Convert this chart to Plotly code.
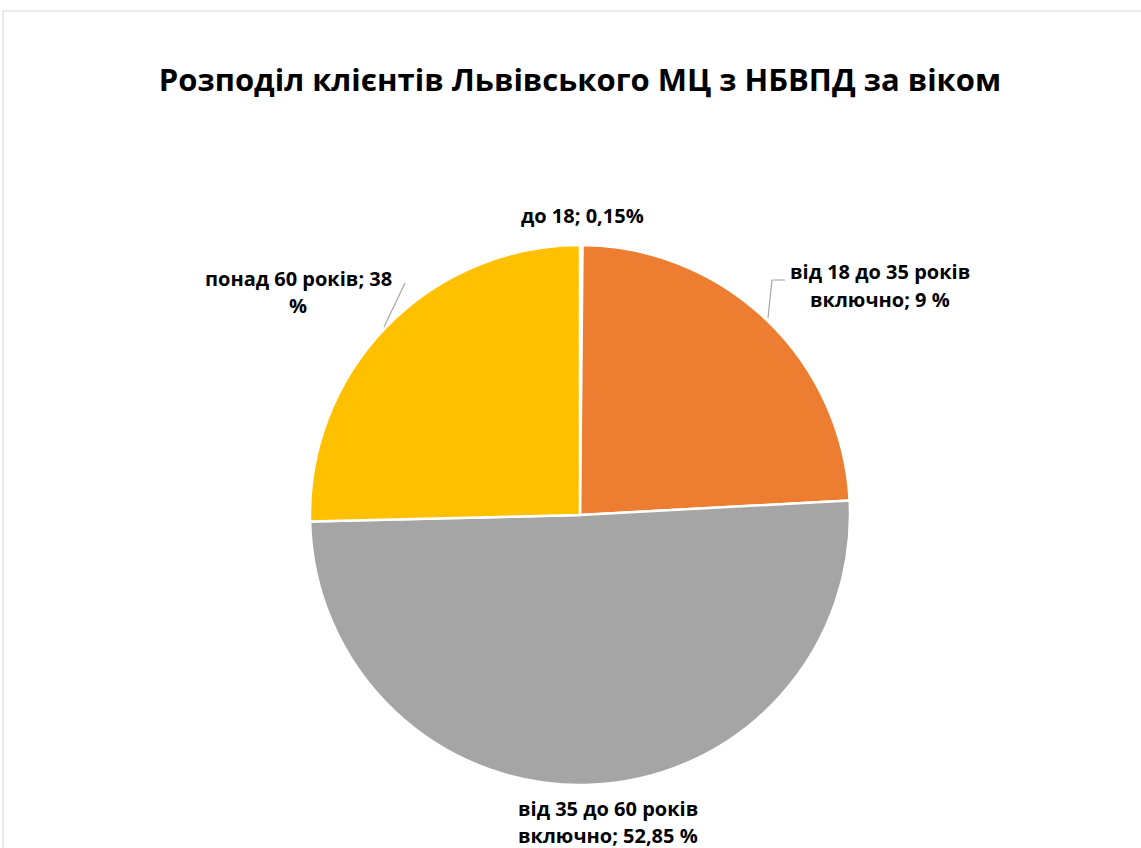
import plotly.graph_objects as go

# Data
categories = ["до 18", "від 18 до 35 років включно", "від 35 до 60 років включно", "понад 60 років"]
values = [0.15, 24.0, 50.5, 25.4]  # visual slice shares as drawn
label_texts = ["до 18; 0,15%", "від 18 до 35 років<br>включно; 9 %",
               "від 35 до 60 років<br>включно; 52,85 %", "понад 60 років; 38<br>%"]
colors = ["#4472C4", "#ED7D31", "#A5A5A5", "#FFC000"]
title = "Розподіл клієнтів Львівського МЦ з НБВПД за віком"

W, H = 1141, 848
cx, cy, R = 580, 515, 270


def px(x):
    return x / W


def py(y):
    return 1 - y / H


fig = go.Figure()
fig.add_trace(go.Pie(
    labels=categories, values=values, sort=False, direction="clockwise", rotation=0,
    marker=dict(colors=colors, line=dict(color="white", width=2.5)),
    textinfo="none", hoverinfo="label+percent", showlegend=False,
    domain=dict(x=[px(cx - R), px(cx + R)], y=[py(cy + R), py(cy - R)]),
))

font = "Open Sans, Calibri, Carlito, sans-serif"
# label placements (page px: center of first line)
label_pos = [(582, 215), (880, 272), (608, 808), (298, 278)]
line_gap = 27
anns = []
for txt, (x, y) in zip(label_texts, label_pos):
    for i, line in enumerate(txt.split("<br>")):
        anns.append(dict(x=px(x), y=py(y + i * line_gap), xref="paper", yref="paper",
                         text="<b>" + line + "</b>", showarrow=False,
                         font=dict(family=font, size=20, color="#000000"),
                         xanchor="center", yanchor="middle"))

shapes = [
    # chart border
    dict(type="rect", xref="paper", yref="paper", x0=px(3), x1=1.02, y0=-0.02, y1=py(11),
         line=dict(color="#D9D9D9", width=1.2), fillcolor="rgba(0,0,0,0)", layer="below"),
    # leader lines
    dict(type="path", xref="paper", yref="paper",
         path=f"M {px(785)},{py(280)} L {px(772)},{py(280)} L {px(768)},{py(318)}",
         line=dict(color="#A6A6A6", width=1.2)),
    dict(type="line", xref="paper", yref="paper", x0=px(405), y0=py(283), x1=px(384), y1=py(327),
         line=dict(color="#A6A6A6", width=1.2)),
]

fig.update_layout(
    width=W, height=H, margin=dict(l=0, r=0, t=0, b=0),
    paper_bgcolor="white", plot_bgcolor="white",
    title=dict(text="<b>" + title + "</b>", x=px(580), xanchor="center", y=py(80), yanchor="middle",
               font=dict(family=font, size=31, color="#000000")),
    annotations=anns, shapes=shapes,
)

fig.write_html("out.html", config={"displayModeBar": False},
               post_script="document.body.style.margin='0';document.body.style.overflow='hidden';")
